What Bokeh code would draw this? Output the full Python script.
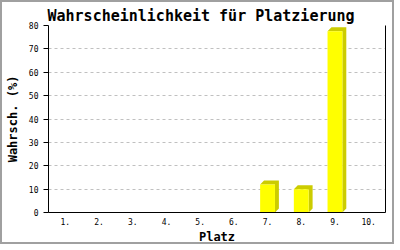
from bokeh.plotting import figure
from bokeh.models import Range1d, FixedTicker, LinearAxis
from bokeh.embed import file_html
from bokeh.resources import INLINE

# ---- data ----
places = ["1.", "2.", "3.", "4.", "5.", "6.", "7.", "8.", "9.", "10."]
probs = [0, 0, 0, 0, 0, 0, 12, 10, 77.5, 0]
y_ticks = [0, 10, 20, 30, 40, 50, 60, 70, 80]
title_text = "Wahrscheinlichkeit f\u00fcr Platzierung"
x_title = "Platz"
y_title = "Wahrsch. (%)"

# ---- layout / style ----
W, H = 394, 244
FL, FR, FT, FB = 41, 11, 23, 33
FW, FH = W - FL - FR, H - FT - FB
Y_MAX = 80
BAR_FRAC = 0.44
SH_PX = 4  # 3D depth in pixels
MONO = "DejaVu Sans Mono"

n = len(places)
dx = SH_PX * n / FW
dy = SH_PX * Y_MAX / FH

p = figure(width=W, height=H, x_range=Range1d(0, n), y_range=Range1d(0, Y_MAX),
           output_backend="svg", toolbar_location=None,
           min_border_left=FL, min_border_right=FR, min_border_top=FT, min_border_bottom=FB)
p.styles = {"border": "2px solid #a0a0a0"}
p.background_fill_color = "white"
p.border_fill_color = "white"
p.outline_line_color = None

p.title.text = title_text
p.title.text_font = MONO
p.title.text_font_size = "15px"
p.title.text_font_style = "bold"
p.title.text_color = "black"
p.title.align = "left"
p.title.offset = -1
p.title.standoff = 2

centers = [i + 0.5 for i in range(n)]
xs, ys, lefts, rights, tops = [], [], [], [], []
for c, v in zip(centers, probs):
    if v <= 0:
        continue
    l, r = c - BAR_FRAC / 2, c + BAR_FRAC / 2
    xs.append([l, l + dx, r + dx, r + dx, r, r])
    ys.append([v, v + dy, v + dy, dy, 0, v])
    lefts.append(l); rights.append(r); tops.append(v)

p.patches(xs, ys, fill_color="#cccc00", line_color=None)
p.quad(left=lefts, right=rights, bottom=0, top=tops, fill_color="#ffff00", line_color=None)

# axes
xa = p.xaxis[0]
xa.ticker = FixedTicker(ticks=centers)
xa.major_label_overrides = {c: lab for c, lab in zip(centers, places)}
xa.major_tick_line_color = None
xa.major_tick_out = 0
xa.major_tick_in = 0
xa.minor_tick_line_color = None
xa.axis_line_color = "black"
xa.major_label_text_font = MONO
xa.major_label_text_font_size = "8px"
xa.major_label_text_color = "black"
xa.major_label_standoff = 5
xa.axis_label = x_title
xa.axis_label_text_font = MONO
xa.axis_label_text_font_size = "12px"
xa.axis_label_text_font_style = "bold"
xa.axis_label_text_color = "black"
xa.axis_label_standoff = 2

ya = p.yaxis[0]
ya.ticker = FixedTicker(ticks=y_ticks)
ya.major_tick_out = 5
ya.major_tick_in = 0
ya.minor_tick_line_color = None
ya.axis_line_color = "black"
ya.major_label_text_font = MONO
ya.major_label_text_font_size = "8px"
ya.major_label_text_color = "black"
ya.major_label_standoff = 5
ya.axis_label = y_title
ya.axis_label_text_font = MONO
ya.axis_label_text_font_size = "12px"
ya.axis_label_text_font_style = "bold"
ya.axis_label_text_color = "black"
ya.axis_label_standoff = 6

ra = LinearAxis(ticker=FixedTicker(ticks=[]), axis_line_color="black",
                major_tick_line_color=None, minor_tick_line_color=None)
p.add_layout(ra, "right")

p.xgrid.visible = False
p.ygrid.ticker = FixedTicker(ticks=y_ticks)
p.ygrid.grid_line_color = "#c0c0c0"
p.ygrid.grid_line_dash = "3 3"

open("out.html", "w").write(file_html(p, INLINE))
